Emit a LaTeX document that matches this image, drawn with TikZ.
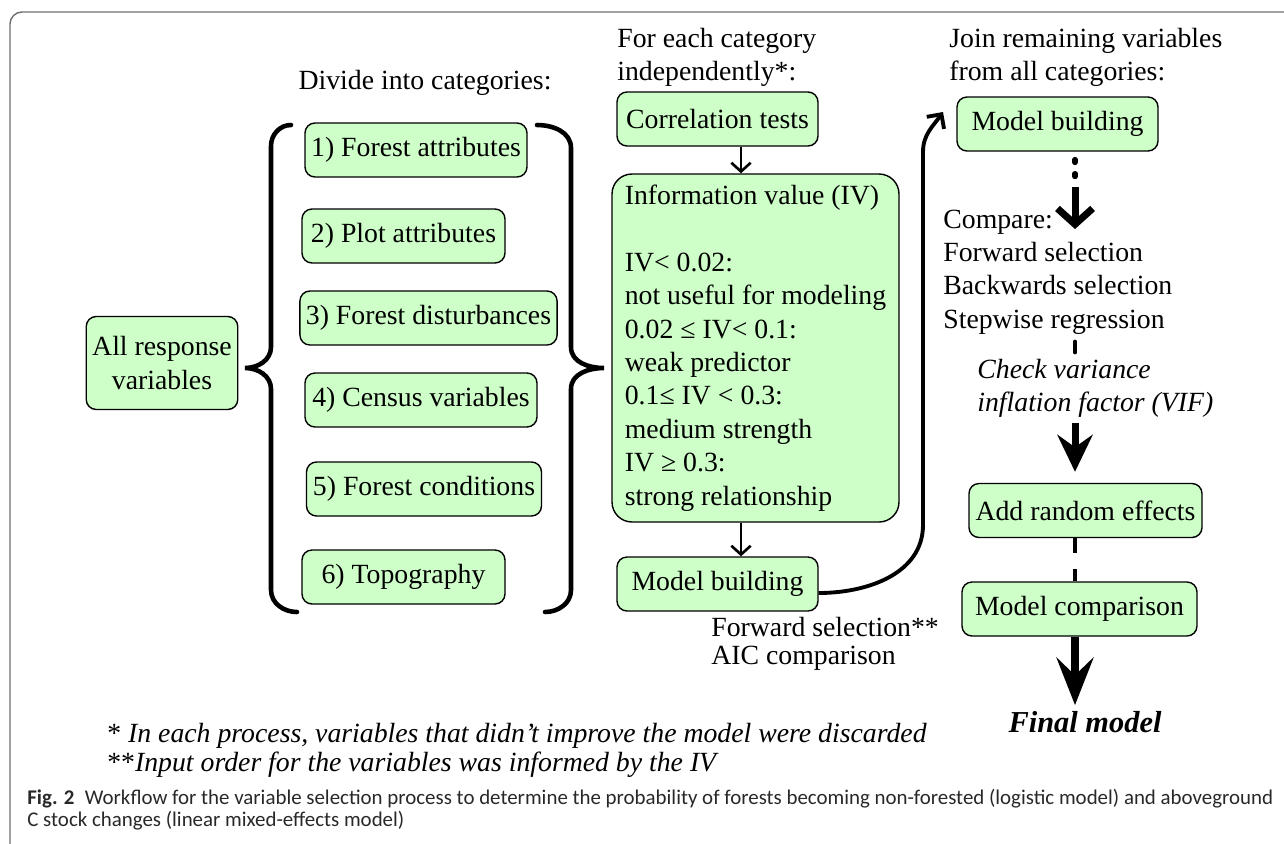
\documentclass[tikz,border=0pt]{standalone}
\usepackage{fontspec}
\setmainfont{Liberation Serif}
\newfontfamily\capfont{Carlito}
\usetikzlibrary{arrows.meta}
\definecolor{boxgreen}{RGB}{206,255,200}
\definecolor{framegray}{RGB}{110,110,110}
\definecolor{captext}{RGB}{40,40,40}
\newlength\pxu
\setlength\pxu{0.02cm}

\begin{document}
\begin{tikzpicture}[x=\pxu, y=-\pxu,
  font=\fontsize{15.8}{19}\selectfont,
  greenbox/.style={draw=black, fill=boxgreen, line width=0.8pt,
    rounded corners=10*\pxu, align=center, inner xsep=6*\pxu,
    minimum height=54*\pxu},
  plaintext/.style={anchor=west, align=left, inner sep=0pt},
  bracepath/.style={line width=2.6pt, line cap=round},
  smallarrow/.style={line width=1.5pt, -{Straight Barb[length=5pt,width=11pt]}},
  curvearrow/.style={line width=2.2pt, -{Straight Barb[length=6pt,width=12pt]}},
  dotline/.style={line width=3.2pt, line cap=round, dash pattern=on 1.5pt off 6.5pt},
  barbarrow/.style={line width=4pt, -{Straight Barb[length=9pt,width=20pt]}},
  bigarrow/.style={line width=4pt, -{Stealth[length=21pt,width=20pt,inset=7pt]}},
  finalarrow/.style={line width=4.5pt, -{Stealth[length=27pt,width=21pt,inset=10pt]}},
  dashlink/.style={line width=2.8pt, dash pattern=on 8.5pt off 9pt}]

\useasboundingbox (0,0) rectangle (1284,843);
\clip (0,0) rectangle (1284,843);

% frame
\draw[framegray, line width=0.8pt, rounded corners=12*\pxu] (10,900) -- (10,12) -- (1320,12);

% left part
\node (divide) at (425,83) {Divide into categories:};
\node[greenbox, minimum height=93*\pxu] (allvar) at (162,363) {All response\\ variables};

\node[greenbox, minimum width=222*\pxu] (cat1) at (416,150) {1) Forest attributes};
\node[greenbox, minimum width=203*\pxu] (cat2) at (403.5,236) {2) Plot attributes};
\node[greenbox, minimum width=253*\pxu] (cat3) at (428.5,318) {3) Forest disturbances};
\node[greenbox, minimum width=232*\pxu] (cat4) at (421,400) {4) Census variables};
\node[greenbox, minimum width=235*\pxu] (cat5) at (424,489) {5) Forest conditions};
\node[greenbox, minimum width=203*\pxu] (cat6) at (403.5,577) {6) Topography};

% braces
\draw[bracepath] (291,125) to[out=180,in=90] (271,146) -- (271,347)
  to[out=-90,in=0] (245,368) to[out=0,in=90] (271,389) -- (271,590)
  to[out=-90,in=180] (297,612);
\draw[bracepath] (537,125) to[out=0,in=90] (571,148) -- (571,347)
  to[out=-90,in=180] (604,368) to[out=180,in=90] (571,389) -- (571,590)
  to[out=-90,in=0] (545,612);

% middle part
\node[plaintext] (foreach) at (617,57.5) {For each category\\independently*:};
\node[greenbox, minimum width=201*\pxu] (corr) at (717.5,119) {Correlation tests};
\node[greenbox, rounded corners=20*\pxu, minimum width=287*\pxu, minimum height=348*\pxu,
  align=left] (ivbox) at (755.5,348)
  {Information value (IV)\\[19pt]IV< 0.02:\\not useful for modeling\\0.02 ≤ IV< 0.1:\\weak predictor\\0.1≤ IV < 0.3:\\medium strength\\IV ≥ 0.3:\\strong relationship};
\node[greenbox, minimum width=201*\pxu] (mbleft) at (717.5,584) {Model building};
\node[plaintext] (fwdsel) at (711,644) {Forward selection**\\[-3pt]AIC comparison};

\draw[smallarrow] (corr.south -| 741,0) -- (ivbox.north -| 741,0);
\draw[smallarrow] (ivbox.south -| 741,0) -- (mbleft.north -| 741,0);

\coordinate (tipB) at (943,112);
\draw[curvearrow] ([yshift=-9*\pxu]mbleft.east) to[out=0,in=-90] (923,525) -- (923,152)
  to[out=90,in=235] (tipB);

% right part
\node[plaintext] (join) at (949,57.5) {Join remaining variables\\from all categories:};
\node[greenbox, minimum width=201*\pxu] (mbright) at (1057.5,124) {Model building};
\node[plaintext] (cmptxt) at (943,272) {Compare:\\Forward selection\\Backwards selection\\Stepwise regression};
\node[plaintext, font=\fontsize{15.8}{19}\selectfont\itshape] (vif) at (977,388.5) {Check variance\\inflation factor (VIF)};
\node[greenbox, minimum width=233*\pxu] (addre) at (1085.5,510.5) {Add random effects};
\node[greenbox, minimum width=235*\pxu] (mcomp) at (1079.5,609) {Model comparison};
\node[font=\fontsize{17.3}{20}\selectfont\bfseries\itshape] (final) at (1085,722) {Final model};

\coordinate (dotend) at (1075,187);
\coordinate (tipA) at (1075,229);
\coordinate (dotA) at (1075,342);
\coordinate (dotB) at (1075,352);
\coordinate (vifend) at (1075,423);

\draw[dotline, shorten <=8*\pxu] (mbright.south -| 1075,0) -- (dotend);
\draw[barbarrow] (dotend) -- (tipA);
\draw[line width=2.8pt, line cap=round] (dotA) -- (dotB);
\draw[bigarrow, shorten >=11*\pxu] (vifend) -- (addre.north -| 1075,0);
\draw[dashlink] (addre.south -| 1075,0) -- (mcomp.north -| 1075,0);
\draw[finalarrow] (mcomp.south -| 1075,0) -- (final.north -| 1075,0);

% footnotes and caption
\node[plaintext] (note1) at (107,736) {* \textit{In each process, variables that didn’t improve the model were discarded}};
\node[plaintext] (note2) at (107,765) {**\textit{Input order for the variables was informed by the IV}};
\node[anchor=north west, align=left, inner sep=0pt, text=captext, font=\capfont\fontsize{11.9}{12.6}\selectfont] (caption) at (27,789)
  {\textbf{Fig. 2}\enspace Workflow for the variable selection process to determine the probability of forests becoming non-forested (logistic model) and aboveground\\C stock changes (linear mixed-effects model)};
\end{tikzpicture}
\end{document}
